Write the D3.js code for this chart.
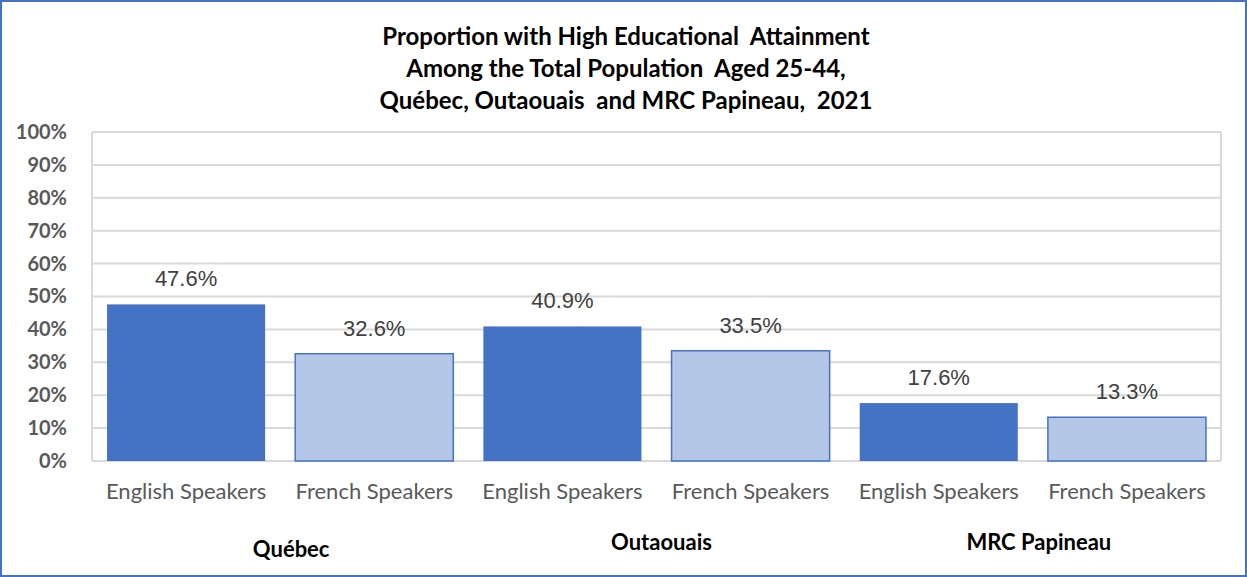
<!DOCTYPE html>
<html><head><meta charset="utf-8">
<script src="https://cdn.jsdelivr.net/npm/d3@7"></script>
<style>body{margin:0;background:#fff}svg{display:block}</style>
</head><body>
<svg id="c" width="1247" height="577"></svg>
<script>
const groups = ["Québec", "Outaouais", "MRC Papineau"];
const speakers = ["English Speakers", "French Speakers"];
const values = [47.6, 32.6, 40.9, 33.5, 17.6, 13.3];
const yTicks = [0,10,20,30,40,50,60,70,80,90,100];
const titleLines = ["Proportion with High Educational  Attainment", "Among the Total Population  Aged 25-44,", "Québec, Outaouais  and MRC Papineau,  2021"];

const data = values.map((v,i)=>({g:groups[Math.floor(i/2)], s:speakers[i%2], v, key:i}));
const svg = d3.select("#c");
const W=1247,H=577;
svg.append("rect").attr("x",1).attr("y",1).attr("width",W-2).attr("height",H-2).attr("fill","#fff").attr("stroke","#4472C4").attr("stroke-width",2);

const m={l:92,r:1221,t:132,b:461};
const x=d3.scaleBand().domain(data.map(d=>d.key)).range([m.l,m.r]).paddingInner(0.16).paddingOuter(0.08);
const y=d3.scaleLinear().domain([0,100]).range([m.b,m.t]);
const font="Lato, 'Open Sans', sans-serif";

// grid
svg.append("g").selectAll("line").data(yTicks).join("line")
  .attr("x1",m.l).attr("x2",m.r).attr("y1",d=>y(d)).attr("y2",d=>y(d))
  .attr("stroke","#d9d9d9").attr("stroke-width",2);
svg.append("line").attr("x1",m.l).attr("x2",m.l).attr("y1",m.t).attr("y2",m.b).attr("stroke","#d9d9d9").attr("stroke-width",2);
svg.append("line").attr("x1",m.r).attr("x2",m.r).attr("y1",m.t).attr("y2",m.b).attr("stroke","#d9d9d9").attr("stroke-width",2);

// y axis labels
const yAxis=d3.axisLeft(y).tickValues(yTicks).tickFormat(d=>d+"%").tickSize(0).tickPadding(25);
const ya=svg.append("g").attr("transform",`translate(${m.l},0)`).call(yAxis);
ya.select(".domain").remove();
ya.selectAll("text").attr("font-family",font).attr("font-weight","bold").attr("font-size",20).attr("fill","#595959");

// bars
svg.append("g").selectAll("rect").data(data).join("rect")
  .attr("x",d=>x(d.key)).attr("width",x.bandwidth())
  .attr("y",d=>y(d.v)).attr("height",d=>y(0)-y(d.v))
  .attr("fill",d=>d.s===speakers[0]?"#4472C4":"#B4C7E7")
  .attr("stroke",d=>d.s===speakers[0]?"none":"#4472C4").attr("stroke-width",1.5);

// value labels
svg.append("g").selectAll("text").data(data).join("text")
  .attr("x",d=>x(d.key)+x.bandwidth()/2).attr("y",d=>y(d.v)-18)
  .attr("text-anchor","middle").attr("font-family","'Liberation Sans', Arial, sans-serif").attr("font-size",22).attr("fill","#404040")
  .text(d=>d.v.toFixed(1)+"%");

// category labels
svg.append("g").selectAll("text").data(data).join("text")
  .attr("x",d=>x(d.key)+x.bandwidth()/2).attr("y",499)
  .attr("text-anchor","middle").attr("font-family",font).attr("font-size",22).attr("fill","#595959")
  .text(d=>d.s);

// group labels
const gOff=[11,5,6], gY=[557,550,550];
svg.append("g").selectAll("text").data(groups).join("text")
  .attr("x",(d,i)=>(x(2*i)+x(2*i+1)+x.bandwidth())/2+gOff[i]).attr("y",(d,i)=>gY[i])
  .attr("text-anchor","middle").attr("font-family",font).attr("font-weight","bold").attr("font-size",22).attr("fill","#000")
  .text(d=>d);

// title
svg.append("g").selectAll("text").data(titleLines).join("text")
  .attr("x",626).attr("y",(d,i)=>45+i*32)
  .attr("text-anchor","middle").attr("font-family",font).attr("font-weight","bold").attr("font-size",24).attr("fill","#000")
  .style("white-space","pre")
  .text(d=>d);
</script>
</body></html>
